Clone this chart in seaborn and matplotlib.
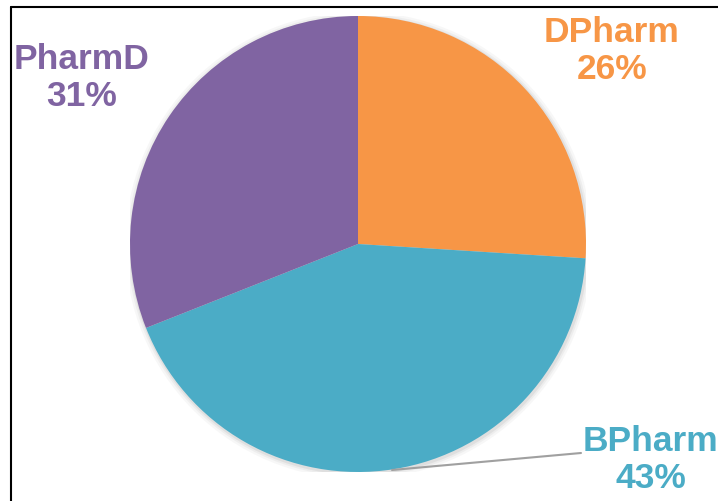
import matplotlib
matplotlib.use("Agg")
import matplotlib.pyplot as plt
import seaborn as sns
from matplotlib.lines import Line2D
from matplotlib.patches import Circle

sns.set_theme(style="white")
plt.rcParams['font.family'] = ['Liberation Sans', 'DejaVu Sans']

categories = ["DPharm", "BPharm", "PharmD"]
values = [26, 43, 31]
colors = ["#F79646", "#4BACC6", "#8064A2"]

fig = plt.figure(figsize=(7.18, 5.01), dpi=100)
fig.patch.set_facecolor("white")

# frame lines (top and left)
fig.add_artist(Line2D([11/718, 1], [1 - 7/501, 1 - 7/501], color="black", lw=1.5))
fig.add_artist(Line2D([11/718, 11/718], [0, 1 - 7/501], color="black", lw=1.5))

cx, cy, r = 358, 244, 228
ax = fig.add_axes([(cx - r)/718, (501 - cy - r)/501, 2*r/718, 2*r/501])
# soft shadow behind the pie
for rad, a in [(1.025, 0.06), (1.015, 0.08), (1.007, 0.12)]:
    ax.add_patch(Circle((0.004, -0.006), rad, color="#808080", alpha=a, lw=0, zorder=0))
wedges, _ = ax.pie(values, colors=colors, startangle=90, counterclock=False,
                   radius=1, wedgeprops=dict(linewidth=0, zorder=1))
ax.set_xlim(-1, 1)
ax.set_ylim(-1, 1)
ax.axis("off")

def px(x, y):
    return ((x - cx) / r, (cy - y) / r)

label_pos = {"DPharm": (612, 51), "BPharm": (651, 460), "PharmD": (82, 78)}
for cat, val, col in zip(categories, values, colors):
    x, y = px(*label_pos[cat])
    ax.text(x, y, f"{cat}\n{val}%", color=col, fontsize=25.5, fontweight="bold",
            ha="center", va="center", linespacing=1.18, clip_on=False)

# leader line for BPharm
x0, y0 = px(392, 470)
x1, y1 = px(581, 453)
ax.add_line(Line2D([x0, x1], [y0, y1], color="#A0A0A0", lw=1.5, clip_on=False))

fig.savefig("out.png", dpi=100)
